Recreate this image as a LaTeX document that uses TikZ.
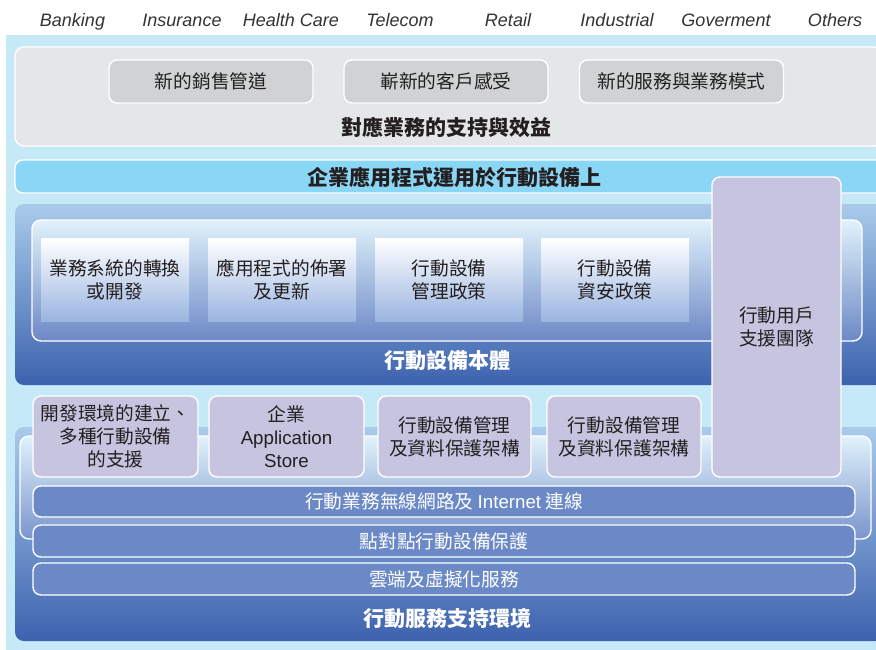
\documentclass[tikz,border=0pt]{standalone}
\usepackage{fontspec}
\setmainfont{Liberation Sans}
\newfontfamily\cjk{Noto Sans CJK TC}
\definecolor{bgblue}{HTML}{C6E9F8}
\definecolor{graypanel}{HTML}{E5E6E8}
\definecolor{graybox}{HTML}{D1D2D4}
\definecolor{txt}{HTML}{231F20}
\definecolor{lbar}{HTML}{8AD6F5}
\definecolor{ptop}{HTML}{A9CBEA}
\definecolor{pbot}{HTML}{3D62AE}
\definecolor{itop}{HTML}{E0F2FB}
\definecolor{imid}{HTML}{B3CAEA}
\definecolor{ibot}{HTML}{6C88C6}
\definecolor{cbot}{HTML}{9AB5E0}
\definecolor{cmid}{HTML}{D6E2F3}
\definecolor{purp}{HTML}{C7C4E0}
\definecolor{barblue}{HTML}{6B89C6}
\definecolor{lab}{HTML}{333333}
\begin{document}
\begin{tikzpicture}[x=1pt,y=-1pt,
  every node/.style={inner sep=0pt, outer sep=0pt, align=center},
  cjk18/.style={font=\cjk\fontsize{18.7}{23}\selectfont},
  cjkbold/.style={font=\cjk\bfseries\fontsize{21}{25}\selectfont},
  industry/.style={font=\itshape\fontsize{18}{22}\selectfont, text=lab, anchor=base},
  wline/.style={draw=white, line width=1.4pt},
  grayitem/.style={cjk18, wline, rounded corners=8pt, fill=graybox, text=txt, minimum width=204pt, minimum height=43pt},
  panelbox/.style={rounded corners=9pt, top color=ptop, bottom color=pbot},
  innerbox/.style={wline, rounded corners=9pt, top color=itop, middle color=imid, bottom color=ibot},
  card/.style={cjk18, text=txt, top color=white, middle color=cmid, bottom color=cbot, minimum width=148pt, minimum height=83pt},
  purpbox/.style={cjk18, text=txt, wline, rounded corners=8pt, fill=purp},
  barbox/.style={cjk18, text=white, wline, rounded corners=8pt, fill=barblue, minimum width=822pt},
  titletext/.style={cjkbold, text=txt},
  whitetitle/.style={cjkbold, text=white}
]
\useasboundingbox (0,0) rectangle (876,649);
\clip (0,0) rectangle (876,649);
\fill[white] (0,0) rectangle (876,649);
\fill[bgblue] (6,35) rectangle (886,655);

% industries
\node[industry] (i1) at (72.5,26.5) {Banking};
\node[industry] (i2) at (182,26.5) {Insurance};
\node[industry] (i3) at (291,26.5) {Health Care};
\node[industry] (i4) at (400,26.5) {Telecom};
\node[industry] (i5) at (508,26.5) {Retail};
\node[industry] (i6) at (617,26.5) {Industrial};
\node[industry] (i7) at (726,26.5) {Goverment};
\node[industry] (i8) at (835,26.5) {Others};

% gray panel
\node[wline, rounded corners=9pt, fill=graypanel, minimum width=869pt, minimum height=99pt] (gp) at (449.5,96.5) {};
\node[grayitem] (g1) at (211,81.5) {新的銷售管道};
\node[grayitem] (g2) at (446,81.5) {嶄新的客戶感受};
\node[grayitem] (g3) at (681.5,81.5) {新的服務與業務模式};
\node[titletext] (gt) at (446,127) {對應業務的支持與效益};

% light blue bar
\node[wline, rounded corners=8pt, fill=lbar, minimum width=869pt, minimum height=33pt] (lb) at (449.5,176.5) {};
\node[titletext] (lbt) at (454,177) {企業應用程式運用於行動設備上};

% panel 1
\node[panelbox, minimum width=869pt, minimum height=181pt] (p1) at (449.5,294.5) {};
\node[innerbox, minimum width=830pt, minimum height=121pt] (in1) at (447,280.5) {};
\node[card] (c1) at (115,279.5) {業務系統的轉換\\或開發};
\node[card] (c2) at (282,279.5) {應用程式的佈署\\及更新};
\node[card] (c3) at (449,279.5) {行動設備\\管理政策};
\node[card] (c4) at (615,279.5) {行動設備\\資安政策};
\node[whitetitle] (p1t) at (447,361) {行動設備本體};

% bottom panel
\node[panelbox, minimum width=869pt, minimum height=214pt] (p2) at (449.5,534) {};
\node[innerbox, bottom color=ibot!90!white, minimum width=851pt, minimum height=103pt] (in2) at (445.5,487.5) {};
\node[purpbox, minimum width=165pt, minimum height=81pt] (b1) at (115.5,436.5) {開發環境的建立、\\多種行動設備\\的支援};
\node[purpbox, minimum width=155pt, minimum height=81pt] (b2) at (286.5,436.5) {企業\\{\fontspec{Liberation Sans}Application}\\{\fontspec{Liberation Sans}Store}};
\node[purpbox, minimum width=153pt, minimum height=81pt] (b3) at (454.5,436.5) {行動設備管理\\及資料保護架構};
\node[purpbox, minimum width=154pt, minimum height=81pt] (b4) at (624,436.5) {行動設備管理\\及資料保護架構};
\node[barbox, minimum height=31pt] (r1) at (444,501.5) {行動業務無線網路及 {\fontspec{Liberation Sans}Internet} 連線};
\node[barbox, minimum height=32pt] (r2) at (444,541) {點對點行動設備保護};
\node[barbox, minimum height=32pt] (r3) at (444,579) {雲端及虛擬化服務};
\node[whitetitle] (p2t) at (447,619) {行動服務支持環境};

% tall purple box
\node[purpbox, minimum width=129pt, minimum height=300pt] (tp) at (776.5,327) {行動用戶\\支援團隊};
\end{tikzpicture}
\end{document}
